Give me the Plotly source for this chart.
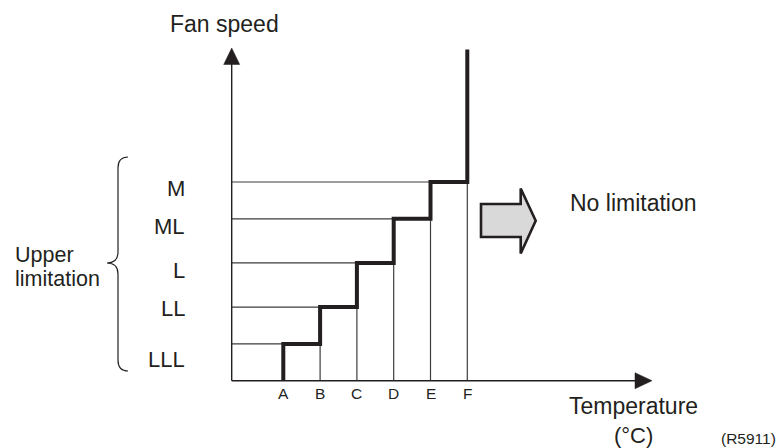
import plotly.graph_objects as go

# ---- data ----
categories = ["A", "B", "C", "D", "E", "F"]
cat_pos = [1, 2, 3, 4, 5, 6]
speed_levels = ["LLL", "LL", "L", "ML", "M"]
level_values = [1.0, 2.0, 3.2, 4.4, 5.4]
top_value = 9.0  # "no limitation" above F

# ---- geometry helpers (page pixel -> data units) ----
W, H = 779, 448
UNIT = 36.8
A_PX = 283.3
BASE_PX = 380.7
INK = "#231f20"
FONT = "Liberation Sans, Arial, sans-serif"


def xd(px):
    return 1 + (px - A_PX) / UNIT


def yd(py):
    return (BASE_PX - py) / UNIT


origin_x = xd(231.7)

fig = go.Figure()

# thin guide lines
gx, gy = [], []
for i, lv in enumerate(level_values):
    gx += [origin_x, cat_pos[i], None]
    gy += [lv, lv, None]
for j in range(1, len(cat_pos)):
    gx += [cat_pos[j], cat_pos[j], None]
    gy += [0, level_values[j - 1], None]
fig.add_trace(go.Scatter(x=gx, y=gy, mode="lines",
                         line=dict(color="#3c3c3c", width=1.2),
                         hoverinfo="skip", showlegend=False))

# axes
fig.add_trace(go.Scatter(x=[origin_x, xd(637), None, origin_x, origin_x],
                         y=[0, 0, None, 0, yd(62)], mode="lines",
                         line=dict(color=INK, width=1.4),
                         hoverinfo="skip", showlegend=False))

# step line
fig.add_trace(go.Scatter(x=cat_pos + [cat_pos[-1]],
                         y=[0] + level_values + [top_value],
                         mode="lines", line=dict(color=INK, width=4, shape="vh"),
                         hoverinfo="skip", showlegend=False))


def path(points):
    return "M " + " L ".join(f"{xd(a)},{yd(b)}" for a, b in points) + " Z"


shapes = []
# axis arrowheads
shapes.append(dict(type="path", xref="x", yref="y",
                   path=path([(231.7, 48), (223.7, 64.5), (239.7, 64.5)]),
                   fillcolor=INK, line=dict(color=INK, width=0.5)))
shapes.append(dict(type="path", xref="x", yref="y",
                   path=path([(652, 380.7), (635, 372.7), (635, 388.7)]),
                   fillcolor=INK, line=dict(color=INK, width=0.5)))
# block arrow
shapes.append(dict(type="path", xref="x", yref="y",
                   path=path([(481, 204), (520.7, 204), (520.7, 188.5), (535.7, 220.7),
                              (520.7, 253.5), (520.7, 237), (481, 237)]),
                   fillcolor="#d9d9d9", line=dict(color=INK, width=2.6)))
# brace
bp = [(128, 157), (118, 157), (118, 168), (118, 252), (118, 263), (107, 263),
      (118, 263), (118, 274), (118, 360), (118, 371), (128, 371)]
c = [f"{xd(a)},{yd(b)}" for a, b in bp]
brace = (f"M {c[0]} Q {c[1]} {c[2]} L {c[3]} Q {c[4]} {c[5]} "
         f"Q {c[6]} {c[7]} L {c[8]} Q {c[9]} {c[10]}")
shapes.append(dict(type="path", xref="x", yref="y", path=brace,
                   line=dict(color=INK, width=1.2)))

ann = []


def text(t, px, py, size, xanchor="center"):
    ann.append(dict(text=t, x=xd(px), y=yd(py), xref="x", yref="y",
                    showarrow=False, xanchor=xanchor, yanchor="middle",
                    borderpad=0,
                    font=dict(family=FONT, size=size, color=INK)))


text("Fan speed", 224.5, 23.5, 23)
label_py = [359.5, 308.5, 270, 226, 188]
for name, py in zip(speed_levels, label_py):
    text(name, 186, py, 22, "right")
text("Upper", 14, 254.5, 21.5, "left")
text("limitation", 14, 279, 21.5, "left")
for name, p in zip(categories, cat_pos):
    ann.append(dict(text=name, x=p, y=yd(393), xref="x", yref="y",
                    showarrow=False, xanchor="center", yanchor="middle",
                    font=dict(family=FONT, size=15.5, color=INK)))
text("No limitation", 569, 203, 23, "left")
text("Temperature", 568, 406, 23, "left")
text("(°C)", 633, 435, 22)
text("(R5911)", 777, 438.5, 15.5, "right")

fig.update_layout(
    width=W, height=H, margin=dict(l=0, r=0, t=0, b=0),
    paper_bgcolor="white", plot_bgcolor="white",
    xaxis=dict(range=[xd(0), xd(W)], visible=False, fixedrange=True),
    yaxis=dict(range=[yd(H), yd(0)], visible=False, fixedrange=True),
    shapes=shapes, annotations=ann, showlegend=False,
)

fig.write_html(
    "out.html",
    config={"displayModeBar": False},
    post_script="document.body.style.margin='0';document.body.style.overflow='hidden';",
)
